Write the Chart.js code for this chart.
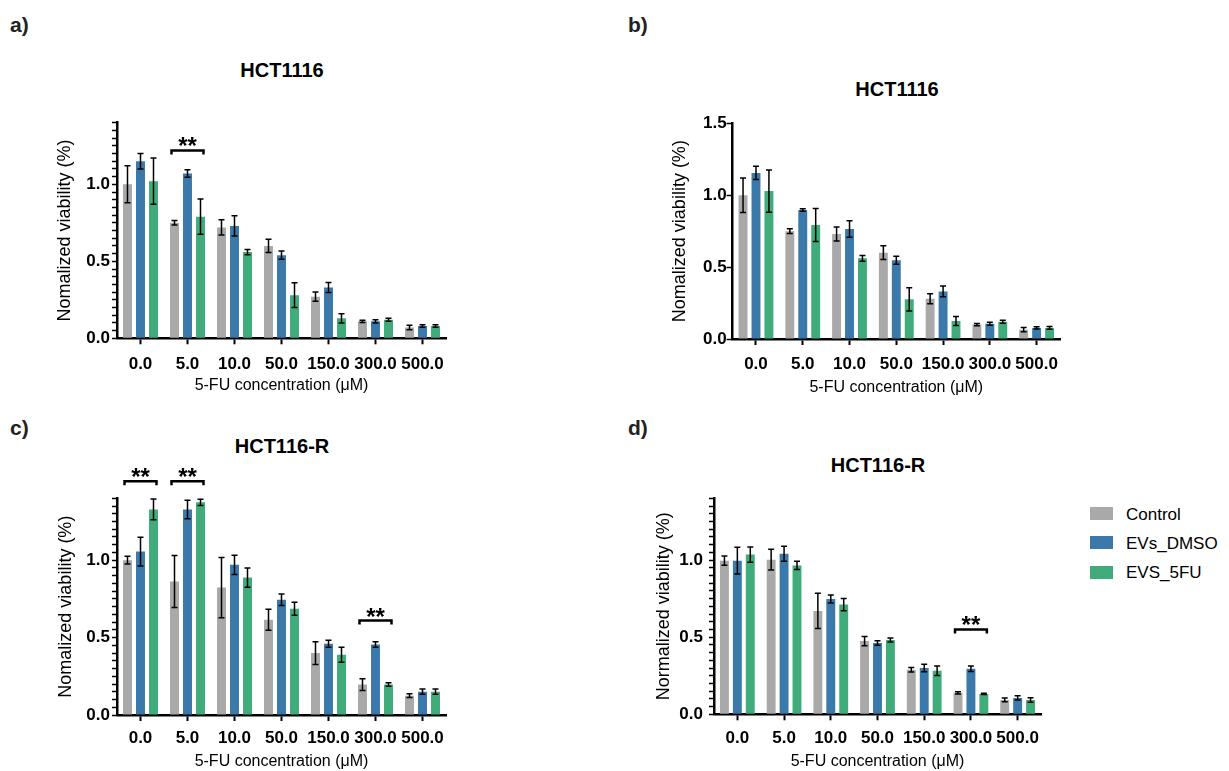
<!DOCTYPE html>
<html>
<head>
<meta charset="utf-8">
<script src="https://cdn.jsdelivr.net/npm/chart.js@4.4.1/dist/chart.umd.min.js"></script>
<style>
  body { margin: 0; width: 1229px; height: 771px; background: #fff; position: relative; overflow: hidden;
         font-family: "Liberation Sans", Arial, sans-serif; color: #000; }
  canvas { position: absolute; }
  .txt { position: absolute; white-space: nowrap; line-height: 1; }
  .letter { font-size: 21px; font-weight: bold; color: #222; }
  .title { font-size: 20px; font-weight: bold; transform: translate(-50%, -50%); }
  .key { position: absolute; width: 23px; height: 13px; }
  .keytxt { font-size: 17px; transform: translateY(-50%); }
</style>
</head>
<body>
<div class="txt letter" style="left:10px;top:14px">a)</div>
<div class="txt letter" style="left:628px;top:14px">b)</div>
<div class="txt letter" style="left:10px;top:417px">c)</div>
<div class="txt letter" style="left:628px;top:417px">d)</div>

<div class="txt title" style="left:282px;top:70px">HCT1116</div>
<div class="txt title" style="left:897px;top:89px">HCT1116</div>
<div class="txt title" style="left:282px;top:446px">HCT116-R</div>
<div class="txt title" style="left:878px;top:465px">HCT116-R</div>

<canvas id="chartA" width="470" height="300" style="left:0;top:100px"></canvas>
<canvas id="chartB" width="480" height="300" style="left:600px;top:100px"></canvas>
<canvas id="chartC" width="470" height="330" style="left:0;top:450px"></canvas>
<canvas id="chartD" width="460" height="330" style="left:600px;top:450px"></canvas>

<div id="legend"></div>

<script>
// x categories
const concentrations = ['0.0', '5.0', '10.0', '50.0', '150.0', '300.0', '500.0'];
const seriesNames = ['Control', 'EVs_DMSO', 'EVS_5FU'];
const seriesColors = ['#A9A9A9', '#3A79AA', '#40AC7C'];

// a) HCT1116
const aControl    = [1.00, 0.75, 0.72, 0.60, 0.27, 0.11, 0.07];
const aControlErr = [0.12, 0.015, 0.05, 0.043, 0.03, 0.008, 0.015];
const aDmso       = [1.15, 1.07, 0.73, 0.54, 0.33, 0.11, 0.08];
const aDmsoErr    = [0.05, 0.025, 0.065, 0.027, 0.033, 0.01, 0.008];
const aFu         = [1.02, 0.79, 0.56, 0.28, 0.13, 0.12, 0.08];
const aFuErr      = [0.15, 0.115, 0.017, 0.08, 0.03, 0.01, 0.008];

// b) HCT1116
const bControl    = [1.00, 0.75, 0.73, 0.60, 0.28, 0.10, 0.065];
const bControlErr = [0.12, 0.016, 0.049, 0.048, 0.035, 0.008, 0.015];
const bDmso       = [1.155, 0.897, 0.765, 0.547, 0.331, 0.106, 0.077];
const bDmsoErr    = [0.046, 0.008, 0.058, 0.028, 0.037, 0.01, 0.008];
const bFu         = [1.029, 0.793, 0.561, 0.276, 0.125, 0.12, 0.077];
const bFuErr      = [0.147, 0.115, 0.02, 0.081, 0.031, 0.01, 0.01];

// c) HCT116-R
const cControl    = [1.00, 0.862, 0.823, 0.616, 0.40, 0.197, 0.125];
const cControlErr = [0.025, 0.168, 0.195, 0.068, 0.073, 0.038, 0.012];
const cDmso       = [1.056, 1.328, 0.97, 0.745, 0.46, 0.456, 0.151];
const cDmsoErr    = [0.093, 0.06, 0.062, 0.037, 0.023, 0.018, 0.017];
const cFu         = [1.328, 1.374, 0.888, 0.687, 0.389, 0.197, 0.151];
const cFuErr      = [0.067, 0.02, 0.062, 0.042, 0.049, 0.011, 0.017];

// d) HCT116-R
const dControl    = [0.996, 1.002, 0.67, 0.475, 0.289, 0.139, 0.093];
const dControlErr = [0.03, 0.067, 0.114, 0.03, 0.015, 0.007, 0.012];
const dDmso       = [0.996, 1.041, 0.748, 0.462, 0.30, 0.295, 0.106];
const dDmsoErr    = [0.087, 0.049, 0.026, 0.015, 0.024, 0.018, 0.014];
const dFu         = [1.035, 0.965, 0.711, 0.482, 0.282, 0.132, 0.093];
const dFuErr      = [0.049, 0.027, 0.04, 0.013, 0.031, 0.004, 0.015];

// significance brackets: category index and height (y value)
const aBrackets = [{ index: 1, value: 1.22 }];
const bBrackets = [];
const cBrackets = [{ index: 0, value: 1.51 }, { index: 1, value: 1.51 }, { index: 5, value: 0.61 }];
const dBrackets = [{ index: 5, value: 0.55 }];

Chart.defaults.font.family = '"Liberation Sans", Arial, sans-serif';
Chart.defaults.color = '#000';

// error bars + "**" brackets, drawn through the y scale and bar positions
const errorBars = {
  id: 'errorBars',
  afterDatasetsDraw(chart, args, opts) {
    const ctx = chart.ctx;
    const y = chart.scales.y;
    ctx.save();
    ctx.strokeStyle = '#000';
    ctx.lineWidth = 1.5;
    chart.data.datasets.forEach((ds, i) => {
      chart.getDatasetMeta(i).data.forEach((bar, j) => {
        const v = ds.data[j], e = ds.errors[j];
        const top = y.getPixelForValue(v + e);
        const bot = y.getPixelForValue(v - e);
        ctx.beginPath();
        ctx.moveTo(bar.x, top); ctx.lineTo(bar.x, bot);
        ctx.moveTo(bar.x - 3, top); ctx.lineTo(bar.x + 3, top);
        ctx.moveTo(bar.x - 3, bot); ctx.lineTo(bar.x + 3, bot);
        ctx.stroke();
      });
    });
    ctx.lineWidth = 2.5;
    ctx.fillStyle = '#000';
    ctx.font = 'bold 24px "Liberation Sans", Arial, sans-serif';
    ctx.textAlign = 'center';
    ctx.textBaseline = 'alphabetic';
    (opts.brackets || []).forEach(b => {
      const first = chart.getDatasetMeta(0).data[b.index];
      const last = chart.getDatasetMeta(2).data[b.index];
      const x1 = first.x - 3, x2 = last.x + 3;
      const py = y.getPixelForValue(b.value);
      ctx.beginPath();
      ctx.moveTo(x1, py + 4); ctx.lineTo(x1, py); ctx.lineTo(x2, py); ctx.lineTo(x2, py + 4);
      ctx.stroke();
      ctx.fillText('**', (x1 + x2) / 2, py + 4);
    });
    ctx.restore();
  }
};

function makeDatasets(values, errors) {
  return seriesNames.map((name, i) => ({
    label: name,
    data: values[i],
    errors: errors[i],
    backgroundColor: seriesColors[i],
    borderWidth: 0,
    categoryPercentage: 0.83,
    barPercentage: 0.69
  }));
}

function makeChart(id, values, errors, brackets, p) {
  const major = p.minor ? 0.05 : 0.5;
  return new Chart(document.getElementById(id), {
    type: 'bar',
    data: { labels: concentrations, datasets: makeDatasets(values, errors) },
    plugins: [errorBars],
    options: {
      responsive: false,
      animation: false,
      layout: { padding: { top: p.top, right: p.right, left: 0, bottom: 0 } },
      plugins: {
        legend: { display: false },
        tooltip: { enabled: false },
        errorBars: { brackets: brackets }
      },
      scales: {
        x: {
          border: { color: '#000', width: 2.5 },
          grid: { offset: false, drawOnChartArea: false, drawTicks: true, tickLength: 6, tickColor: '#000', tickWidth: 2 },
          ticks: { color: '#000', font: { size: 17, weight: 'bold' }, padding: p.xPad, maxRotation: 0, autoSkip: false },
          title: { display: true, text: '5-FU concentration (μM)', color: '#000', font: { size: 16 }, padding: { top: 0, bottom: p.xTitlePad } },
          afterFit(s) { s.height = p.xHeight; }
        },
        y: {
          min: 0,
          max: p.max,
          border: { color: '#000', width: 2.5 },
          grid: { drawOnChartArea: false, drawTicks: true, tickLength: p.minor ? 5 : 6, tickColor: '#000', tickWidth: 1.5 },
          ticks: {
            stepSize: major,
            autoSkip: false,
            color: '#000',
            padding: p.yPad,
            font: { size: 17, weight: 'bold' },
            callback: v => Math.abs(v * 2 - Math.round(v * 2)) < 1e-6 ? v.toFixed(1) : ''
          },
          title: { display: true, text: p.yTitle, color: '#000', font: { size: 18 }, padding: { top: p.yTitlePad, bottom: 0 } },
          afterFit(s) { s.width = p.yWidth; }
        }
      }
    }
  });
}

makeChart('chartA', [aControl, aDmso, aFu], [aControlErr, aDmsoErr, aFuErr], aBrackets,
  { max: 1.4, minor: true, top: 22.7, right: 24, yWidth: 117, xHeight: 61.7, xPad: 10, xTitlePad: 5,
    yPad: 2, yTitlePad: 54, yTitle: 'Nomalized viability (%)' });

makeChart('chartB', [bControl, bDmso, bFu], [bControlErr, bDmsoErr, bFuErr], bBrackets,
  { max: 1.5, minor: false, top: 23.3, right: 20, yWidth: 132.6, xHeight: 61, xPad: 9, xTitlePad: 3,
    yPad: 0, yTitlePad: 69, yTitle: 'Nomalized viability (%)' });

makeChart('chartC', [cControl, cDmso, cFu], [cControlErr, cDmsoErr, cFuErr], cBrackets,
  { max: 1.4, minor: true, top: 48.3, right: 24, yWidth: 117, xHeight: 65, xPad: 7, xTitlePad: 8.5,
    yPad: 2, yTitlePad: 55.5, yTitle: 'Nomalized viability (%)' });

makeChart('chartD', [dControl, dDmso, dFu], [dControlErr, dDmsoErr, dFuErr], dBrackets,
  { max: 1.4, minor: true, top: 48.3, right: 19, yWidth: 114, xHeight: 65.7, xPad: 8, xTitlePad: 8.5,
    yPad: 6, yTitlePad: 53, yTitle: 'Normalized viability (%)' });

// legend
const legend = document.getElementById('legend');
const legendY = [513.5, 542.5, 572];
seriesNames.forEach((name, i) => {
  const box = document.createElement('div');
  box.className = 'key';
  box.style.left = '1090px';
  box.style.top = (legendY[i] - 6.5) + 'px';
  box.style.background = seriesColors[i];
  legend.appendChild(box);
  const t = document.createElement('div');
  t.className = 'txt keytxt';
  t.style.left = '1126px';
  t.style.top = legendY[i] + 'px';
  t.textContent = name;
  legend.appendChild(t);
});
</script>
</body>
</html>
